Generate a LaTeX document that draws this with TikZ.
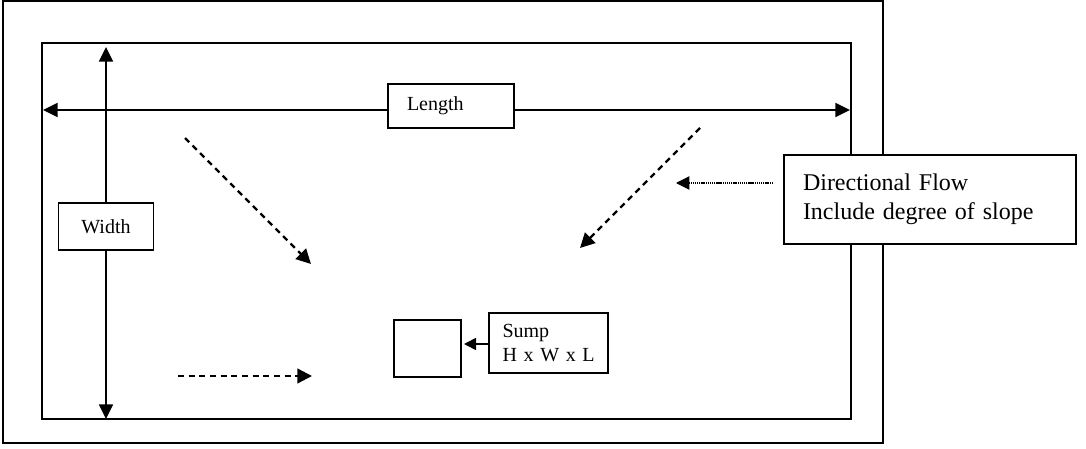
\documentclass[tikz,border=0pt]{standalone}
\usepackage{fontspec}
\setmainfont{Liberation Serif}
\usetikzlibrary{arrows.meta}
\tikzset{
  frame/.style={draw, line width=0.9pt, fill=white, inner sep=0pt},
  lbl/.style={draw, line width=0.9pt, fill=white, font=\fontsize{15}{18}\selectfont, inner sep=0pt},
  big/.style={draw, line width=0.9pt, fill=white, font=\fontsize{18}{21.75}\selectfont, inner sep=0pt},
  dim/.style={line width=1.2pt, {Triangle[length=11pt,width=10.5pt]}-{Triangle[length=11pt,width=10.5pt]}},
  flow/.style={line width=1.7pt, dash pattern=on 4.5pt off 3.5pt, -{Triangle[length=11pt,width=11pt]}},
  hint/.style={line width=0.8pt, dash pattern=on 1pt off 0.6pt, -{Triangle[length=10pt,width=10pt]}},
  solidarrow/.style={line width=1.2pt, -{Triangle[length=9pt,width=9pt]}}
}
\begin{document}
\begin{tikzpicture}[x=0.75pt,y=-0.75pt]
\useasboundingbox (0,0) rectangle (1086,449);
% outer and inner frames
\node[frame, fill=none, minimum width=660pt, minimum height=331.5pt] (outer) at (443,222) {};
\node[frame, fill=none, minimum width=606.75pt, minimum height=282pt] (inner) at (446.5,231) {};
% dimension arrows
\coordinate (hL) at (43,110);
\coordinate (hR) at (850,110);
\coordinate (vT) at (106,47);
\coordinate (vB) at (106,419);
\draw[dim] (hL) -- (hR);
\draw[dim] (vB) -- (vT);
% labels on the dimension arrows
\node[lbl, minimum width=94.5pt, minimum height=33pt, text width=66pt, align=left] (length) at (451,106) {Length};
\node[lbl, minimum width=71.25pt, minimum height=35.25pt, align=center] (width) at (106,226.5) {Width};
% flow arrows
\coordinate (f1s) at (185,138);
\coordinate (f1e) at (311,264);
\coordinate (f2s) at (700,128);
\coordinate (f2e) at (580,248);
\coordinate (f3s) at (178,376);
\coordinate (f3e) at (312,376);
\draw[flow] (f1s) -- (f1e);
\draw[flow] (f2s) -- (f2e);
\draw[flow] (f3s) -- (f3e);
% directional flow note
\node[big, minimum width=219pt, minimum height=66.75pt, text width=190.5pt, align=left] (dir) at (930,199.5) {Directional Flow\\Include degree of slope};
\coordinate (dirArrowEnd) at (676,183);
\coordinate (dirArrowStart) at (773,183);
\draw[hint] (dirArrowStart) -- (dirArrowEnd);
% sump
\node[frame, minimum width=50.25pt, minimum height=42.75pt] (sump) at (427.5,348.5) {};
\node[lbl, minimum width=89.25pt, minimum height=45pt, text width=69pt, align=left] (sumpnote) at (548.5,343) {Sump\\H~x~W~x~L};
\coordinate (sumpArrowEnd) at (464,344);
\draw[solidarrow] (sumpnote.west |- sumpArrowEnd) -- (sumpArrowEnd);
\end{tikzpicture}
\end{document}
